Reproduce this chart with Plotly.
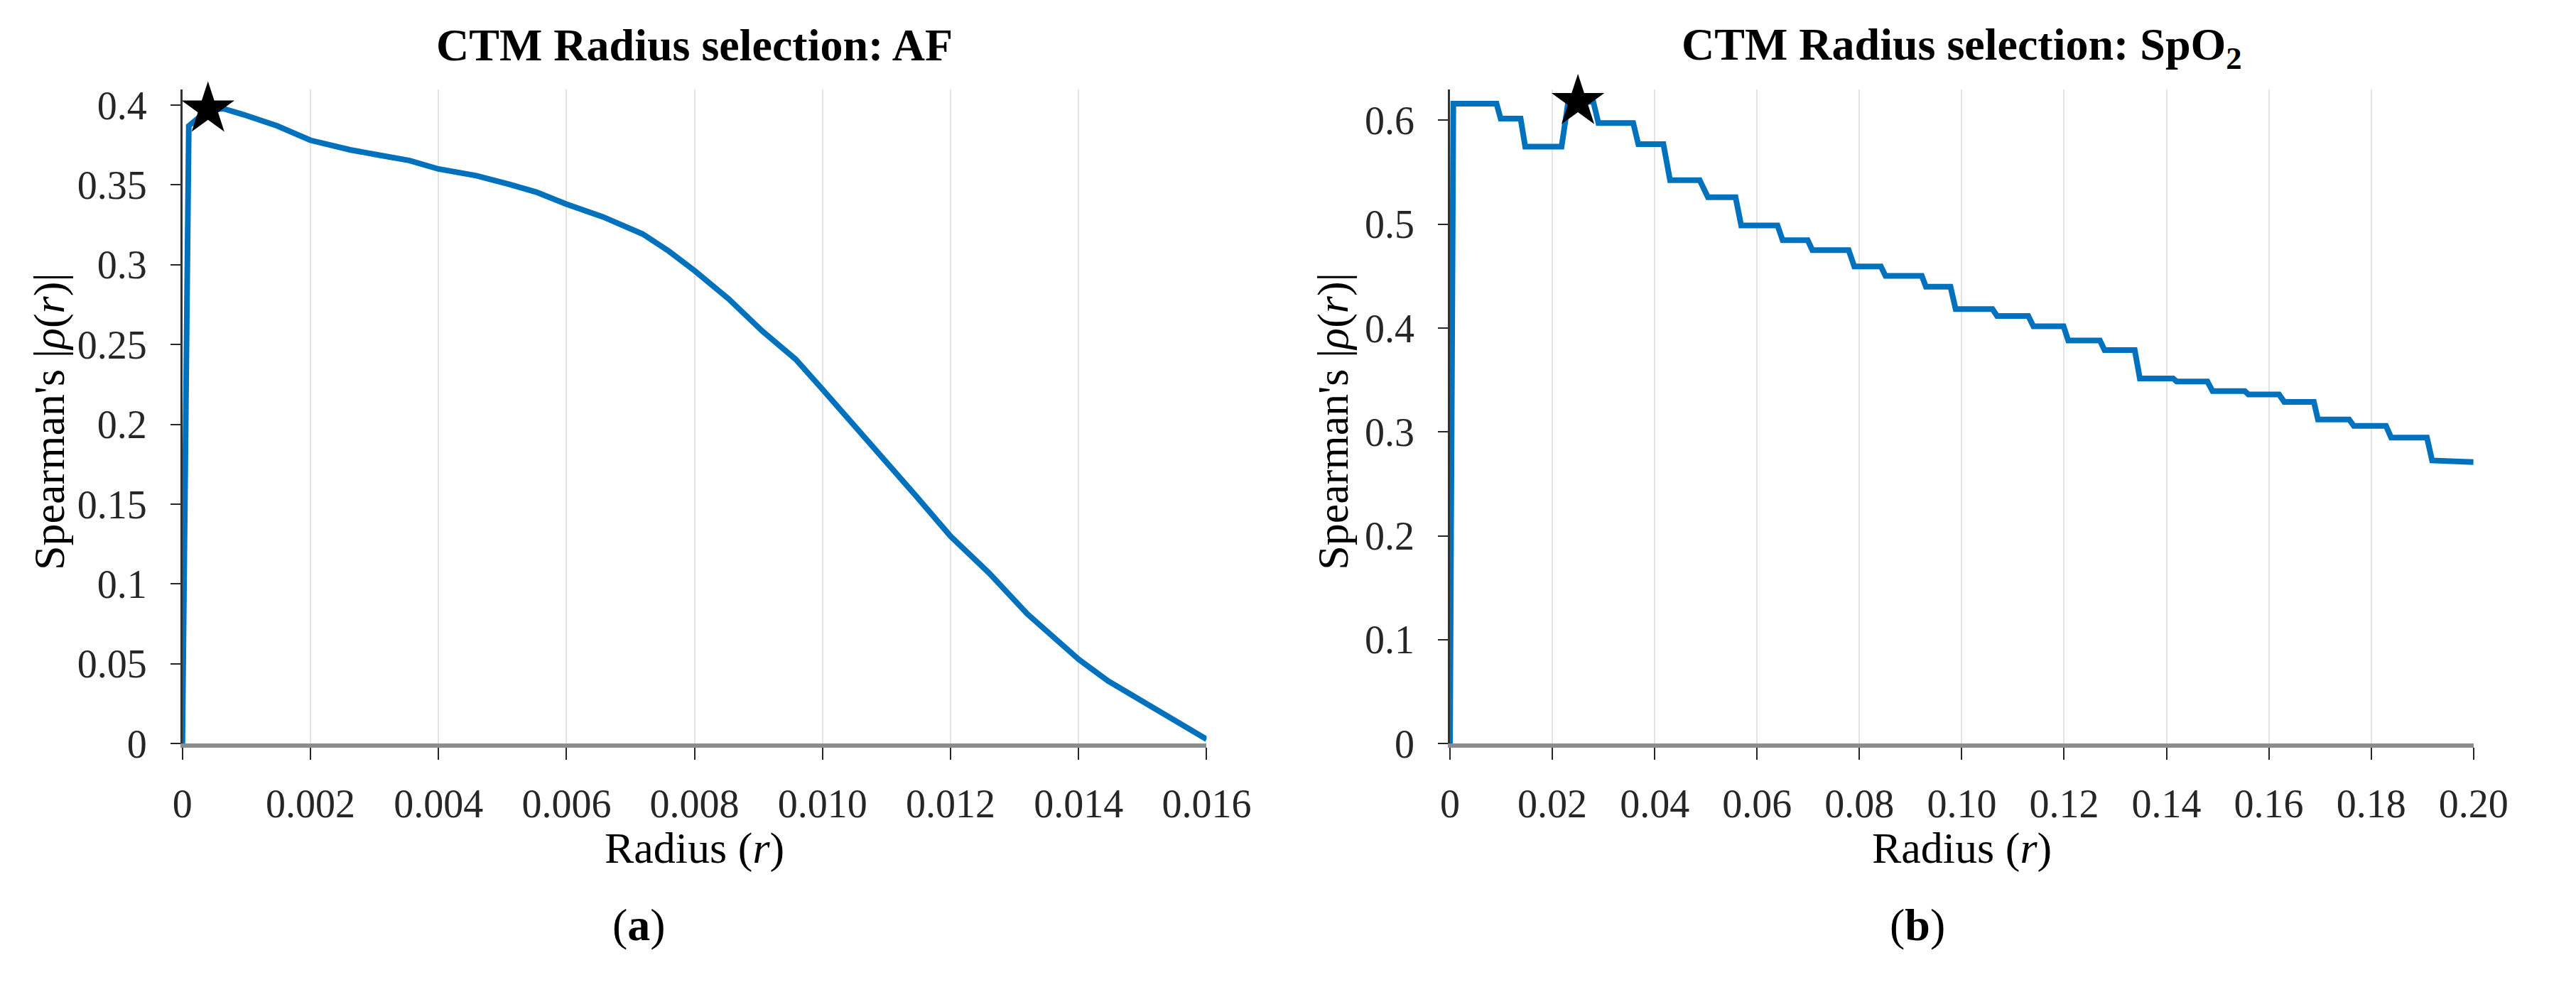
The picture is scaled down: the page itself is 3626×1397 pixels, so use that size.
import plotly.graph_objects as go

# ---------------- data ----------------
# (a) AF
af_radius = [0, 0.0001, 0.0004, 0.00064, 0.00096, 0.00148, 0.002, 0.00262, 0.00303,
             0.00355, 0.004, 0.00459, 0.00511, 0.00553, 0.006, 0.00657, 0.00719,
             0.0076, 0.008, 0.00853, 0.00906, 0.00958, 0.010, 0.01051, 0.01093,
             0.01145, 0.012, 0.0126, 0.0132, 0.014, 0.01446, 0.01498, 0.0155, 0.016]
af_rho = [0, 0.387, 0.397, 0.3978, 0.394, 0.387, 0.378, 0.372, 0.369,
          0.3653, 0.360, 0.3558, 0.3504, 0.3455, 0.338, 0.330, 0.3193,
          0.3085, 0.2963, 0.2787, 0.2584, 0.2408, 0.2219, 0.1989, 0.18,
          0.1556, 0.1299, 0.1069, 0.0812, 0.0528, 0.0392, 0.0271, 0.0149, 0.0027]
af_best_r = [0.0004]
af_best_rho = [0.3975]

# (b) SpO2
spo2_radius = [0, 0.00065, 0.0091, 0.0099, 0.0138, 0.0147, 0.0218, 0.0231, 0.028, 0.029,
               0.0358, 0.0368, 0.0417, 0.043, 0.0488, 0.0504, 0.0558, 0.0569, 0.064, 0.065,
               0.0699, 0.0708, 0.0779, 0.079, 0.0842, 0.0851, 0.0922, 0.093, 0.0978, 0.0988,
               0.106, 0.1069, 0.113, 0.114, 0.1199, 0.1208, 0.127, 0.1279, 0.1338, 0.1348,
               0.1413, 0.142, 0.148, 0.149, 0.1553, 0.156, 0.162, 0.163, 0.1688, 0.1696,
               0.1757, 0.1766, 0.1829, 0.1839, 0.1909, 0.1919, 0.2]
spo2_rho = [0, 0.616, 0.616, 0.6017, 0.6017, 0.5747, 0.5747, 0.618, 0.618, 0.5975,
            0.5975, 0.577, 0.577, 0.5423, 0.5423, 0.526, 0.526, 0.4988, 0.4988, 0.4846,
            0.4846, 0.4751, 0.4751, 0.4593, 0.4593, 0.4502, 0.4502, 0.4398, 0.4398, 0.4183,
            0.4183, 0.4116, 0.4116, 0.4017, 0.4017, 0.388, 0.388, 0.3788, 0.3788, 0.3515,
            0.3515, 0.3485, 0.3485, 0.3394, 0.3394, 0.3361, 0.3361, 0.329, 0.329, 0.312,
            0.312, 0.3058, 0.3058, 0.2946, 0.2946, 0.2726, 0.271]
spo2_best_r = [0.025]
spo2_best_rho = [0.618]

af_xticks = [0, 0.002, 0.004, 0.006, 0.008, 0.010, 0.012, 0.014, 0.016]
af_xtick_text = ["0", "0.002", "0.004", "0.006", "0.008", "0.010", "0.012", "0.014", "0.016"]
af_yticks = [0, 0.05, 0.1, 0.15, 0.2, 0.25, 0.3, 0.35, 0.4]
af_ytick_text = ["0", "0.05", "0.1", "0.15", "0.2", "0.25", "0.3", "0.35", "0.4"]

spo2_xticks = [0, 0.02, 0.04, 0.06, 0.08, 0.10, 0.12, 0.14, 0.16, 0.18, 0.20]
spo2_xtick_text = ["0", "0.02", "0.04", "0.06", "0.08", "0.10", "0.12", "0.14", "0.16", "0.18", "0.20"]
spo2_yticks = [0, 0.1, 0.2, 0.3, 0.4, 0.5, 0.6]
spo2_ytick_text = ["0", "0.1", "0.2", "0.3", "0.4", "0.5", "0.6"]

# ---------------- style ----------------
W, H = 3626, 1397
FONT = "Liberation Serif"
LINE_BLUE = "#0072BD"
TXT = "#262626"

fig = go.Figure()

fig.add_trace(go.Scatter(x=af_radius, y=af_rho, mode="lines",
                         line=dict(color=LINE_BLUE, width=8), xaxis="x", yaxis="y",
                         showlegend=False))
fig.add_trace(go.Scatter(x=af_best_r, y=af_best_rho, mode="markers",
                         marker=dict(symbol="star", size=56, color="black"),
                         cliponaxis=False, xaxis="x", yaxis="y", showlegend=False))
fig.add_trace(go.Scatter(x=spo2_radius, y=spo2_rho, mode="lines",
                         line=dict(color=LINE_BLUE, width=8), xaxis="x2", yaxis="y2",
                         showlegend=False))
fig.add_trace(go.Scatter(x=spo2_best_r, y=spo2_best_rho, mode="markers",
                         marker=dict(symbol="star", size=56, color="black"),
                         cliponaxis=False, xaxis="x2", yaxis="y2", showlegend=False))


def px_x(p):
    return p / W


def px_y(p):
    return 1 - p / H


y_dom = [px_y(1070), px_y(122)]

common_x = dict(showline=True, linecolor="#8c8c8c", linewidth=6,
                ticks="outside", ticklen=17, tickwidth=2, tickcolor="#262626",
                showgrid=True, gridcolor="#e3e3e3", gridwidth=2, zeroline=False,
                tickfont=dict(family=FONT, size=56, color=TXT),
                ticklabelstandoff=14, fixedrange=True)
common_y = dict(showline=True, linecolor="#333333", linewidth=2.5,
                ticks="outside", ticklen=14, tickwidth=2, tickcolor="#262626",
                showgrid=False, zeroline=False,
                tickfont=dict(family=FONT, size=56, color=TXT),
                ticklabelstandoff=22, fixedrange=True)

fig.update_layout(
    width=W, height=H,
    margin=dict(l=0, r=0, t=0, b=0),
    paper_bgcolor="white", plot_bgcolor="white",
    xaxis=dict(domain=[px_x(248), px_x(1721)], range=[0, 0.016],
               tickmode="array", tickvals=af_xticks, ticktext=af_xtick_text,
               anchor="y", **common_x),
    yaxis=dict(domain=y_dom, range=[0, 0.41],
               tickmode="array", tickvals=af_yticks, ticktext=af_ytick_text,
               anchor="x", **common_y),
    xaxis2=dict(domain=[px_x(2071), px_x(3543)], range=[0, 0.2],
                tickmode="array", tickvals=spo2_xticks, ticktext=spo2_xtick_text,
                anchor="y2", **common_x),
    yaxis2=dict(domain=y_dom, range=[0, 0.63],
                tickmode="array", tickvals=spo2_yticks, ticktext=spo2_ytick_text,
                anchor="x2", **common_y),
)

title_font = dict(family=FONT, size=64, color="black")
label_font = dict(family=FONT, size=62, color="black")
annotations = [
    # titles
    dict(text="<b>CTM Radius selection: AF</b>", x=px_x(984), y=px_y(58), font=title_font),
    dict(text="<b>CTM Radius selection: SpO<sub>2</sub></b>", x=px_x(2807), y=px_y(62),
         font=title_font),
    # x-axis titles
    dict(text="Radius (<i>r</i>)", x=px_x(984), y=px_y(1222), font=label_font),
    dict(text="Radius (<i>r</i>)", x=px_x(2807), y=px_y(1222), font=label_font),
    # y-axis titles
    dict(text="Spearman's |<i>ρ</i>(<i>r</i>)|", x=px_x(56), y=px_y(603), textangle=-90,
         font=label_font),
    dict(text="Spearman's |<i>ρ</i>(<i>r</i>)|", x=px_x(1903), y=px_y(603), textangle=-90,
         font=label_font),
    # panel labels
    dict(text="(<b>a</b>)", x=px_x(905), y=px_y(1333), font=title_font),
    dict(text="(<b>b</b>)", x=px_x(2743), y=px_y(1333), font=title_font),
]
for a in annotations:
    a.update(xref="paper", yref="paper", showarrow=False, xanchor="center",
             yanchor="middle")
fig.update_layout(annotations=annotations)

fig.write_html("out.html", config={"displayModeBar": False},
               post_script="document.body.style.margin='0';")
